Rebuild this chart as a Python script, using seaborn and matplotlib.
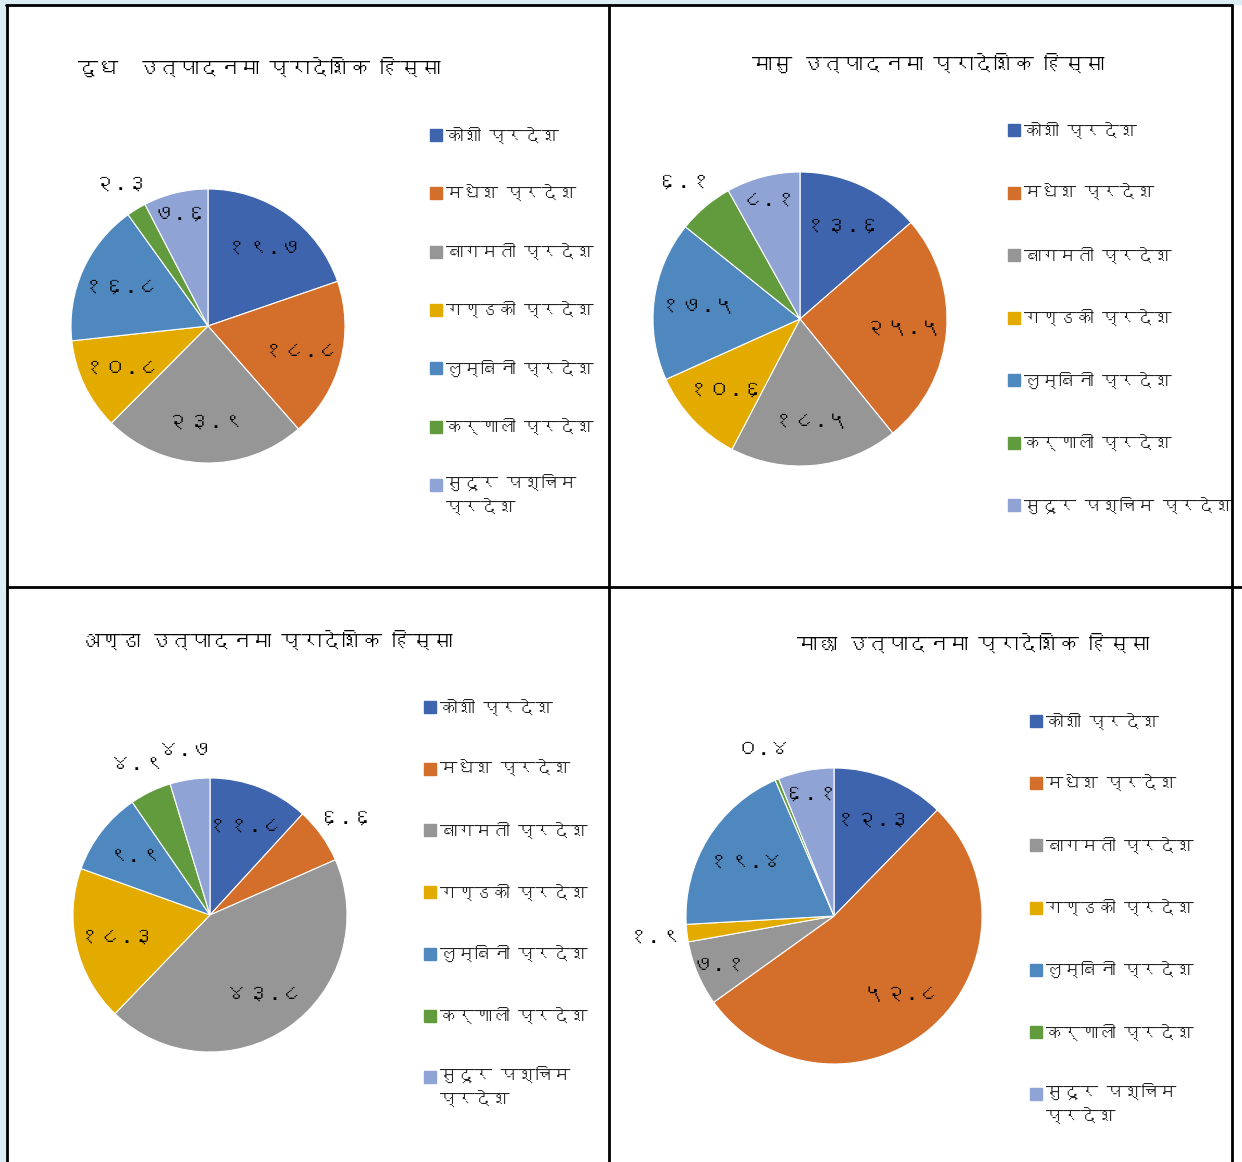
import numpy as np
import pandas as pd
import seaborn as sns
import matplotlib
matplotlib.use("Agg")
import matplotlib.pyplot as plt
from matplotlib import font_manager
from matplotlib.lines import Line2D
from matplotlib.patches import Rectangle

# ---------------- data ----------------
provinces = ["कोशी प्रदेश", "मधेश प्रदेश", "बागमती प्रदेश", "गण्डकी प्रदेश",
             "लुम्बिनी प्रदेश", "कर्णाली प्रदेश", "सुदूर पश्चिम प्रदेश"]
titles = ["दुध  उत्पादनमा प्रादेशिक हिस्सा", "मासु उत्पादनमा प्रादेशिक हिस्सा",
          "अण्डा उत्पादनमा प्रादेशिक हिस्सा", "माछा उत्पादनमा प्रादेशिक हिस्सा"]
milk = [19.7, 18.8, 23.9, 10.8, 16.8, 2.3, 7.6]
meat = [13.6, 25.5, 18.5, 10.6, 17.5, 6.1, 8.1]
egg = [11.8, 6.6, 43.8, 18.3, 9.9, 4.9, 4.7]
fish = [12.3, 52.8, 7.1, 1.9, 19.4, 0.4, 6.1]
colors = ["#3E64AD", "#D46E2B", "#969696", "#E3AA00", "#4E88BE", "#629B3E", "#8FA3D4"]

sns.set_theme(style="white")

# find a font with Devanagari coverage
def find_deva_fonts():
    found = []
    try:
        from fontTools.ttLib import TTFont
    except Exception:
        return found
    seen = set()
    for f in font_manager.fontManager.ttflist:
        if f.name in seen:
            continue
        try:
            tt = TTFont(f.fname, fontNumber=0, lazy=True)
            cmap = tt.getBestCmap()
            if cmap and 0x0915 in cmap and 0x0967 in cmap:
                found.append(f.name)
                seen.add(f.name)
        except Exception:
            pass
    return found

deva = find_deva_fonts()
fam = deva[:1] + ["DejaVu Sans"]
plt.rcParams["font.family"] = fam

W, H = 1242, 1162
fig = plt.figure(figsize=(W / 100, H / 100), dpi=100)
fig.patch.set_facecolor("white")

def fx(x):
    return x / W

def fy(y):
    return 1 - y / H

# background bands and borders
fig.add_artist(Rectangle((0, fy(4)), 1, 4 / H, transform=fig.transFigure, color="#DCEEF5", zorder=0))
fig.add_artist(Rectangle((0, 0), 6 / W, 1, transform=fig.transFigure, color="#DCEEF5", zorder=0))
lw = 2.0
for (x0, y0, x1, y1) in [(6, 5, 1232, 5), (7, 5, 7, H), (609, 5, 609, H),
                         (1232, 5, 1232, H), (7, 587, 1242, 587)]:
    fig.add_artist(Line2D([fx(x0), fx(x1)], [fy(y0), fy(y1)], transform=fig.transFigure,
                          color="black", lw=lw, zorder=5))

panels = [
    dict(vals=milk, cx=208, cy=326, r=137, title=titles[0], tx=78, ty=67, ha="left",
         lx=430, ly=135, lsp=58.3, wrap=True, thr=7),
    dict(vals=meat, cx=800, cy=319, r=147, title=titles[1], tx=928, ty=63, ha="center",
         lx=1008, ly=130, lsp=62.5, wrap=False, thr=7),
    dict(vals=egg, cx=210, cy=915, r=137, title=titles[2], tx=80, ty=640, ha="left",
         lx=424, ly=707, lsp=61.7, wrap=True, thr=7),
    dict(vals=fish, cx=834, cy=916, r=148, title=titles[3], tx=973, ty=643, ha="center",
         lx=1030, ly=721, lsp=62.2, wrap=True, thr=3),
]

K = 1.45
for p in panels:
    side = 2 * p["r"] * K
    ax = fig.add_axes([fx(p["cx"] - side / 2), fy(p["cy"] + side / 2), side / W, side / H])
    df = pd.DataFrame({"province": provinces, "value": p["vals"]})
    wedges, _ = ax.pie(df["value"], colors=colors, startangle=90, counterclock=False,
                       radius=1, wedgeprops=dict(edgecolor="white", linewidth=0.8))
    ax.set_xlim(-K, K)
    ax.set_ylim(-K, K)
    ax.set_aspect("equal")
    ax.axis("off")
    for w, v in zip(wedges, df["value"]):
        mid = np.deg2rad((w.theta1 + w.theta2) / 2)
        if v < p["thr"]:
            d = 1.22
        elif v < 9:
            d = 0.84
        else:
            d = 0.70
        lab = f"{v:.1f}".translate(str.maketrans("0123456789", "०१२३४५६७८९"))
        ax.text(d * np.cos(mid), d * np.sin(mid), lab, ha="center", va="center",
                fontsize=16, color="black")
    fig.text(fx(p["tx"]), fy(p["ty"]), p["title"], ha=p["ha"], va="center",
             fontsize=14.5, fontweight="bold", color="black")
    labels = list(df["province"])
    if p["wrap"]:
        labels[-1] = "सुदूर पश्चिम\nप्रदेश"
    for i, (w, lab) in enumerate(zip(wedges, labels)):
        y = p["ly"] + i * p["lsp"]
        fig.add_artist(Rectangle((fx(p["lx"]), fy(y + 6)), 12 / W, 12 / H,
                                 transform=fig.transFigure, color=colors[i], zorder=4))
        if "\n" in lab:
            fig.text(fx(p["lx"] + 16), fy(y - 11), lab, ha="left", va="top",
                     fontsize=12.5, color="#222222", linespacing=1.5)
        else:
            fig.text(fx(p["lx"] + 16), fy(y), lab, ha="left", va="center",
                     fontsize=12.5, color="#222222")

fig.savefig("out.png", dpi=100)
